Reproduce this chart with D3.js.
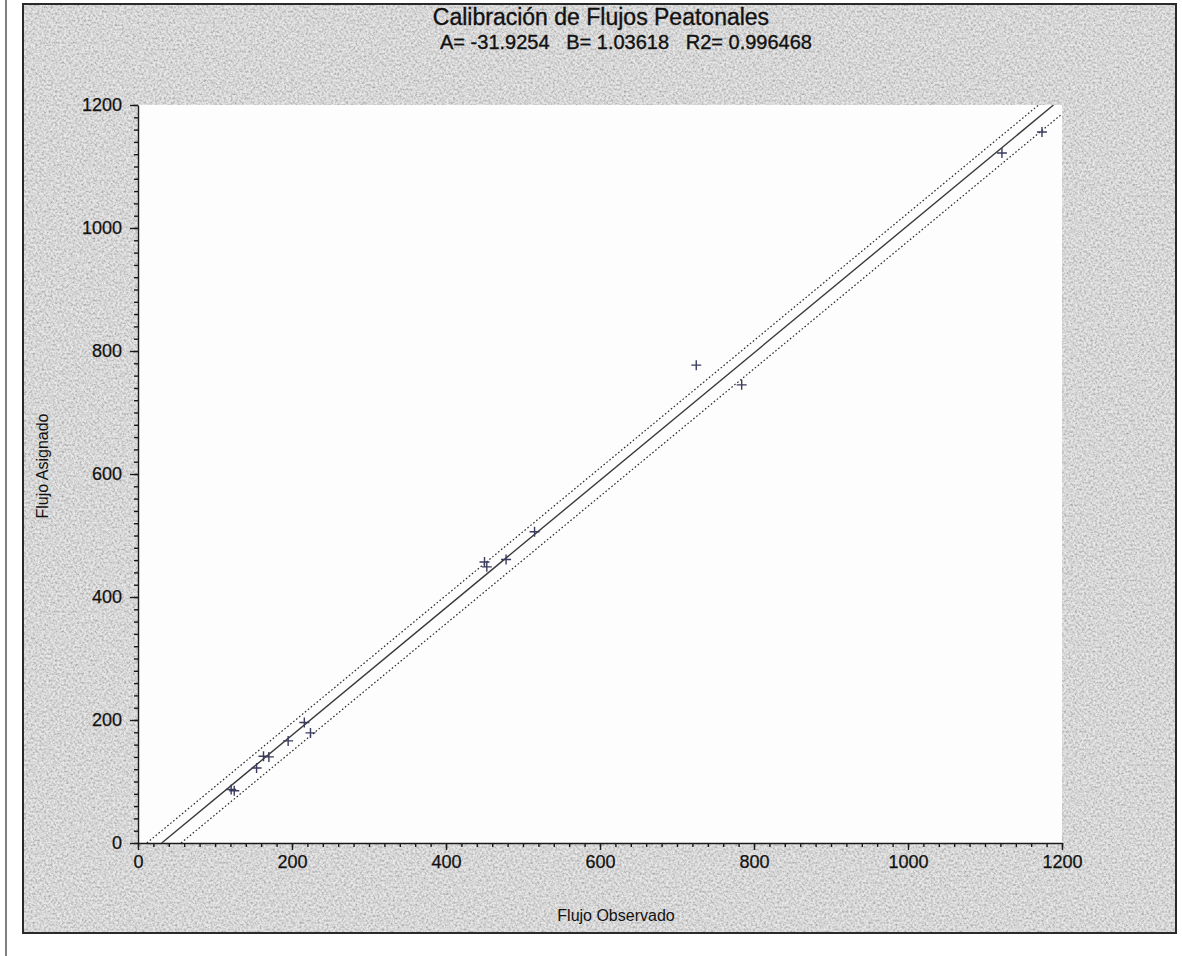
<!DOCTYPE html>
<html>
<head>
<meta charset="utf-8">
<script src="https://cdn.jsdelivr.net/npm/d3@7"></script>
<style>
  body { margin: 0; background: #fff; }
  text { font-family: "Liberation Sans", Arial, sans-serif; fill: #111; }
</style>
</head>
<body>
<script>
const flujoObservado = [121, 125, 154, 163, 170, 195, 216, 224, 450, 453, 478, 515, 725, 784, 1122, 1174];
const flujoAsignado  = [87, 85, 122, 141, 140, 166, 196, 179, 457, 449, 461, 506, 777, 745, 1122, 1156];

// Regression parameters shown in the title
const A = -31.9254, B = 1.03618, R2 = 0.996468;
// Offsets of the dotted band lines (flow units)
const bandOffsets = [20, -26];

const majorTicks = [0, 200, 400, 600, 800, 1000, 1200];
const minorTicks = d3.range(0, 1201, 20);

const W = 1182, H = 956;
const plot = { left: 138, right: 1062, top: 105, bottom: 843 };

const svg = d3.select("body").append("svg")
    .attr("width", W)
    .attr("height", H);

// Speckled grey texture for the panel
const defs = svg.append("defs");
const f = defs.append("filter").attr("id", "noise")
    .attr("x", 0).attr("y", 0).attr("width", "100%").attr("height", "100%");
f.append("feTurbulence")
    .attr("type", "fractalNoise")
    .attr("baseFrequency", 0.45)
    .attr("numOctaves", 3)
    .attr("seed", 7);
f.append("feColorMatrix")
    .attr("type", "matrix")
    .attr("values", "1.3 0 0 0 0.1  1.3 0 0 0 0.1  1.3 0 0 0 0.1  0 0 0 0 0.6");

// page edge line
svg.append("line")
    .attr("x1", 6).attr("x2", 6).attr("y1", 0).attr("y2", H)
    .attr("stroke", "#555").attr("stroke-width", 1.5);

// grey panel
svg.append("rect")
    .attr("x", 23).attr("y", 4).attr("width", 1153).attr("height", 929)
    .attr("fill", "#c6c6c6");
svg.append("rect")
    .attr("x", 23).attr("y", 4).attr("width", 1153).attr("height", 929)
    .attr("filter", "url(#noise)");
svg.append("rect")
    .attr("x", 23).attr("y", 4).attr("width", 1153).attr("height", 929)
    .attr("fill", "none").attr("stroke", "#2a2a2a").attr("stroke-width", 2);

// white plotting area
svg.append("rect")
    .attr("x", plot.left).attr("y", plot.top)
    .attr("width", plot.right - plot.left).attr("height", plot.bottom - plot.top)
    .attr("fill", "#fdfdfd");

// Scales
const x = d3.scaleLinear().domain([0, 1200]).range([plot.left, plot.right]);
const y = d3.scaleLinear().domain([0, 1200]).range([plot.bottom, plot.top]);

// Title (slight stroke to mimic the heavy scanned print)
svg.append("text")
    .attr("x", 601).attr("y", 25)
    .attr("text-anchor", "middle")
    .style("font-size", "23px")
    .style("stroke", "#111").style("stroke-width", 0.35)
    .text("Calibración de Flujos Peatonales");

svg.append("text")
    .attr("x", 626).attr("y", 49)
    .attr("text-anchor", "middle")
    .style("font-size", "20px")
    .style("white-space", "pre")
    .style("stroke", "#111").style("stroke-width", 0.35)
    .text(`A= ${A}   B= ${B}   R2= ${R2}`);

// Axes: minor ticks first, then major ticks with labels
svg.append("g")
    .attr("transform", `translate(${plot.left},0)`)
    .call(d3.axisLeft(y).tickValues(minorTicks).tickSize(4).tickFormat(""))
    .call(g => g.select(".domain").remove());

svg.append("g")
    .attr("transform", `translate(0,${plot.bottom})`)
    .call(d3.axisBottom(x).tickValues(minorTicks).tickSize(4).tickFormat(""))
    .call(g => g.select(".domain").remove());

const yAxis = svg.append("g")
    .attr("transform", `translate(${plot.left},0)`)
    .call(d3.axisLeft(y).tickValues(majorTicks).tickFormat(d3.format("d"))
        .tickSize(8).tickPadding(8).tickSizeOuter(0));

const xAxis = svg.append("g")
    .attr("transform", `translate(0,${plot.bottom})`)
    .call(d3.axisBottom(x).tickValues(majorTicks).tickFormat(d3.format("d"))
        .tickSize(7).tickPadding(5).tickSizeOuter(0));

svg.selectAll(".tick line, .domain").attr("stroke", "#1a1a1a").attr("stroke-width", 1.4);
[yAxis, xAxis].forEach(a => a.selectAll("text")
    .attr("font-family", "Liberation Sans, Arial, sans-serif")
    .style("font-size", "18px")
    .style("stroke", "#111").style("stroke-width", 0.25)
    .attr("fill", "#111"));

// Axis titles
svg.append("text")
    .attr("x", 616).attr("y", 921)
    .attr("text-anchor", "middle")
    .style("font-size", "16px")
    .text("Flujo Observado");

svg.append("text")
    .attr("transform", "rotate(-90)")
    .attr("x", -466).attr("y", 48)
    .attr("text-anchor", "middle")
    .style("font-size", "16px")
    .text("Flujo Asignado");

// Fitted line and band, clipped to the 0..1200 square
function segment(a, b) {
    const x0 = Math.max(0, (0 - a) / b);
    const x1 = Math.min(1200, (1200 - a) / b);
    return [[x0, a + b * x0], [x1, a + b * x1]];
}
const line = d3.line().x(d => x(d[0])).y(d => y(d[1]));

bandOffsets.forEach(off => {
    svg.append("path")
        .datum(segment(A + off, B))
        .attr("fill", "none")
        .attr("stroke", "#2a2a2a")
        .attr("stroke-width", 1.2)
        .attr("stroke-dasharray", "1.6,2.2")
        .attr("d", line);
});

svg.append("path")
    .datum(segment(A, B))
    .attr("fill", "none")
    .attr("stroke", "#3a3a3a")
    .attr("stroke-width", 1.4)
    .attr("d", line);

// Points as plus markers
const pts = flujoObservado.map((v, i) => ({ obs: v, asg: flujoAsignado[i] }));
svg.append("g")
    .selectAll("path")
    .data(pts)
    .join("path")
    .attr("transform", d => `translate(${x(d.obs)},${y(d.asg)})`)
    .attr("d", "M-5,0H5M0,-5V5")
    .attr("stroke", "#3b3b5e")
    .attr("stroke-width", 1.4)
    .attr("fill", "none");
</script>
</body>
</html>
